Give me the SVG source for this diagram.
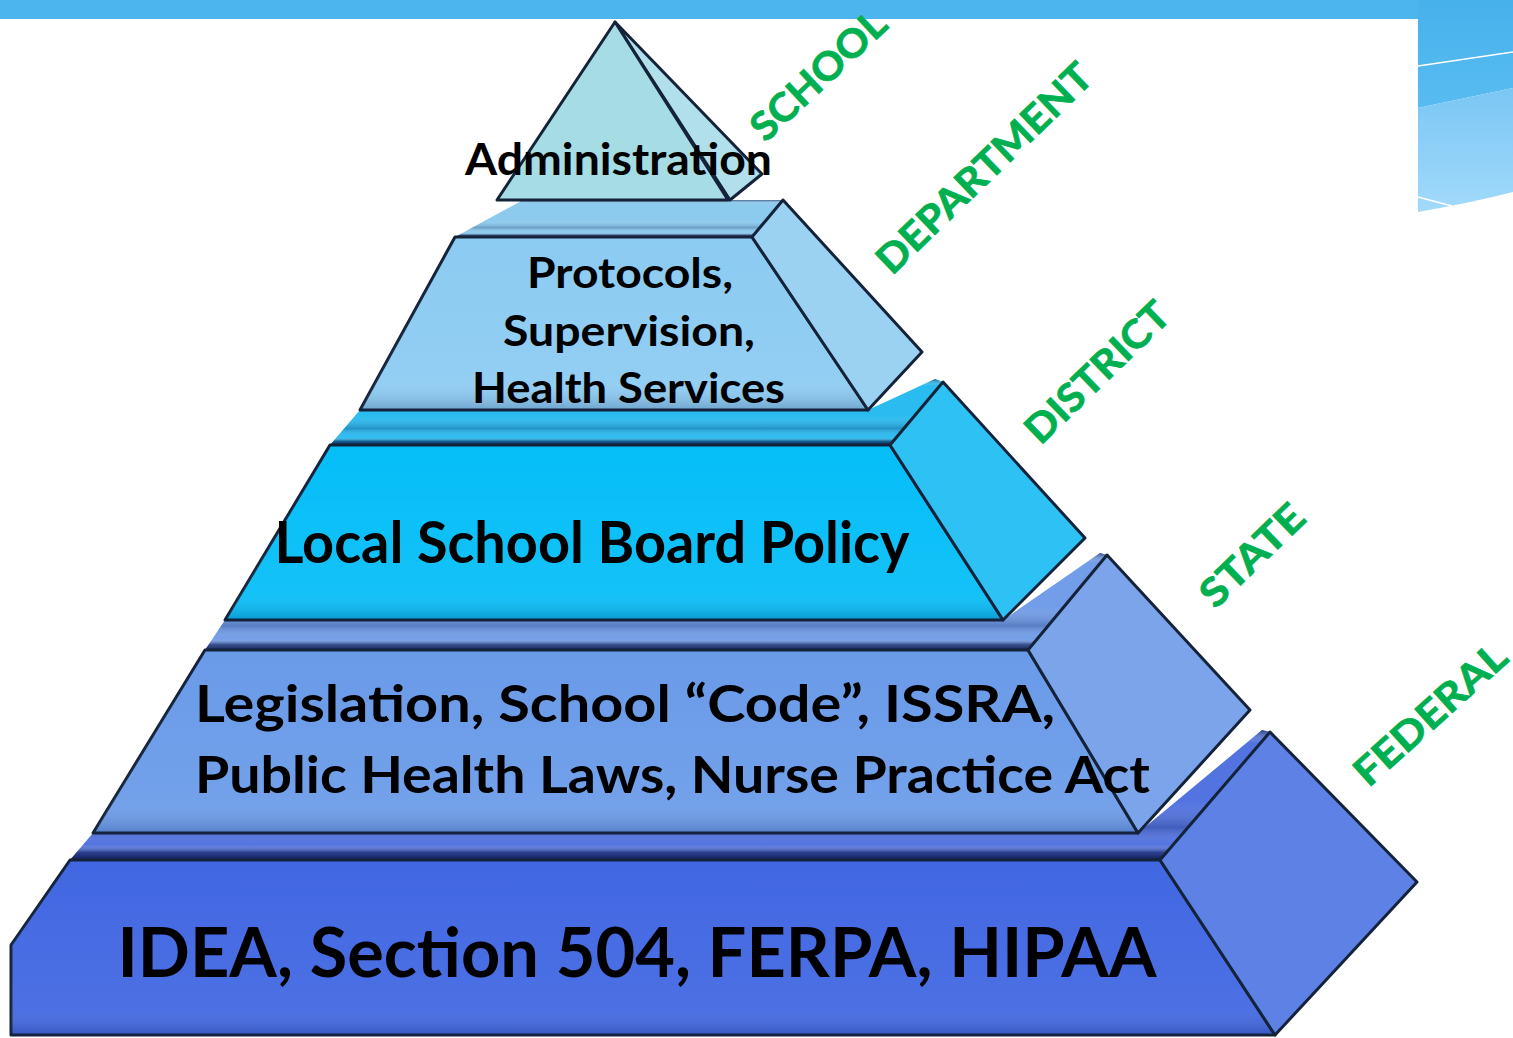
<svg xmlns="http://www.w3.org/2000/svg" width="1513" height="1038" viewBox="0 0 1513 1038">
<defs>
<style>
.edge{stroke:#14233A;stroke-width:3;stroke-linejoin:round}
.lbl{font-family:Lato,"Open Sans","Liberation Sans",sans-serif;font-weight:700;fill:#000}
.lvl{font-family:Lato,"Open Sans","Liberation Sans",sans-serif;font-weight:700;fill:#00B050;font-size:39px;text-anchor:middle;stroke:#00B050;stroke-width:0.8}
</style>
<linearGradient id="gBand" x1="0" y1="0" x2="0" y2="1">
<stop offset="0" stop-color="#0A1A4A" stop-opacity="0.6"/>
<stop offset="0.1" stop-color="#ffffff" stop-opacity="0"/>
<stop offset="0.55" stop-color="#ffffff" stop-opacity="0"/>
<stop offset="0.75" stop-color="#0A1A4A" stop-opacity="0.25"/>
<stop offset="0.88" stop-color="#ffffff" stop-opacity="0"/>
<stop offset="0.94" stop-color="#050E40" stop-opacity="0.5"/>
<stop offset="1" stop-color="#050E40" stop-opacity="0.85"/>
</linearGradient>
<linearGradient id="gFront" x1="0" y1="0" x2="0" y2="1">
<stop offset="0" stop-color="#ffffff" stop-opacity="0"/>
<stop offset="0.85" stop-color="#ffffff" stop-opacity="0.06"/>
<stop offset="1" stop-color="#0A1A4A" stop-opacity="0.22"/>
</linearGradient>
<linearGradient id="gDecoTop" x1="0" y1="0" x2="0" y2="1">
<stop offset="0" stop-color="#47B1EC"/>
<stop offset="1" stop-color="#58BCF1"/>
</linearGradient>
<linearGradient id="gDecoBot" x1="0" y1="0" x2="0" y2="1">
<stop offset="0" stop-color="#7AC6F4"/>
<stop offset="1" stop-color="#A2DAFB"/>
</linearGradient>
</defs>

<rect width="1513" height="1038" fill="#ffffff"/>

<g id="slide-decoration">
<rect x="0" y="0" width="1513" height="19" fill="#4DB5EE"/>
<polygon points="1418,0 1513,0 1513,88 1418,108" fill="url(#gDecoTop)"/>
<path d="M1418,108 L1513,88 L1513,192 Q1470,203 1418,212 Z" fill="url(#gDecoBot)"/>
<line x1="1418" y1="66" x2="1513" y2="52" stroke="#ffffff" stroke-width="1.5"/>
<line x1="1418" y1="197" x2="1452" y2="206" stroke="#ffffff" stroke-width="1.5"/>
</g>

<g id="tier-federal">
<polygon points="93,833 1138,833 1262,730 1270,732 1160,860 70,860" fill="#5374E0"/>
<polygon points="93,833 1138,833 1262,730 1270,732 1160,860 70,860" fill="url(#gBand)"/>
<polygon class="edge" points="70,860 1160,860 1275,1035 11,1035 11,945" fill="#4167E2"/>
<polygon points="70,860 1160,860 1275,1035 11,1035 11,945" fill="url(#gFront)"/>
<polygon class="edge" points="1160,860 1270,732 1417,882 1275,1035" fill="#5E81E5"/>
<text class="lbl" x="637" y="977" font-size="68" text-anchor="middle" textLength="1039" lengthAdjust="spacingAndGlyphs">IDEA, Section 504, FERPA, HIPAA</text>
</g>

<g id="tier-state">
<polygon points="225,620 1003,620 1100,553 1107,555 1028,650 205,650" fill="#729DE8"/>
<polygon points="225,620 1003,620 1100,553 1107,555 1028,650 205,650" fill="url(#gBand)"/>
<polygon class="edge" points="205,650 1028,650 1138,833 93,833" fill="#6A9BE9"/>
<polygon points="205,650 1028,650 1138,833 93,833" fill="url(#gFront)"/>
<polygon class="edge" points="1028,650 1107,555 1250,710 1138,833" fill="#7BA4EA"/>
<text class="lbl" x="195" y="722" font-size="52" textLength="860" lengthAdjust="spacingAndGlyphs">Legislation, School “Code”, ISSRA,</text>
<text class="lbl" x="195" y="793" font-size="52" textLength="955" lengthAdjust="spacingAndGlyphs">Public Health Laws, Nurse Practice Act</text>
</g>

<g id="tier-district">
<polygon points="360,410 868,410 935,379 943,382 890,445 330,445" fill="#2ABCF0"/>
<polygon points="360,410 868,410 935,379 943,382 890,445 330,445" fill="url(#gBand)"/>
<polygon class="edge" points="330,445 890,445 1003,620 225,620" fill="#05BEF8"/>
<polygon points="330,445 890,445 1003,620 225,620" fill="url(#gFront)"/>
<polygon class="edge" points="890,445 943,382 1085,538 1003,620" fill="#2EC2F4"/>
<text class="lbl" x="592" y="563" font-size="57" text-anchor="middle" textLength="635" lengthAdjust="spacingAndGlyphs">Local School Board Policy</text>
</g>

<g id="tier-department">
<polygon points="523,200 783,200 752,237 455,237" fill="#8DCBEE"/>
<polygon points="523,200 783,200 752,237 455,237" fill="url(#gBand)"/>
<polygon class="edge" points="455,237 752,237 868,410 360,410" fill="#8CCBF2"/>
<polygon points="455,237 752,237 868,410 360,410" fill="url(#gFront)"/>
<polygon class="edge" points="752,237 783,200 922,352 868,410" fill="#9BD2F2"/>
<text class="lbl" x="630" y="288" font-size="42" text-anchor="middle" textLength="206" lengthAdjust="spacingAndGlyphs">Protocols,</text>
<text class="lbl" x="629" y="346" font-size="42" text-anchor="middle" textLength="252" lengthAdjust="spacingAndGlyphs">Supervision,</text>
<text class="lbl" x="628.5" y="403" font-size="42" text-anchor="middle" textLength="313" lengthAdjust="spacingAndGlyphs">Health Services</text>
</g>

<g id="tier-school">
<polygon class="edge" points="615,22 762,174 730,200" fill="#B2E0EA"/>
<polygon class="edge" points="615,22 728,200 497,200" fill="#A6DCE3"/>
<text class="lbl" x="618.5" y="175" font-size="43" text-anchor="middle" textLength="307" lengthAdjust="spacingAndGlyphs">Administration</text>
</g>

<g id="level-labels">
<text class="lvl" x="818" y="89" textLength="170" lengthAdjust="spacingAndGlyphs" transform="rotate(-43 818 75)">SCHOOL</text>
<text class="lvl" x="984" y="182" textLength="283" lengthAdjust="spacingAndGlyphs" transform="rotate(-44 984 168)">DEPARTMENT</text>
<text class="lvl" x="1097" y="386" textLength="184" lengthAdjust="spacingAndGlyphs" transform="rotate(-44 1097 372)">DISTRICT</text>
<text class="lvl" x="1252" y="569" textLength="129" lengthAdjust="spacingAndGlyphs" transform="rotate(-44 1252 555)">STATE</text>
<text class="lvl" x="1430" y="728" textLength="191" lengthAdjust="spacingAndGlyphs" transform="rotate(-42 1430 714)">FEDERAL</text>
</g>
</svg>
